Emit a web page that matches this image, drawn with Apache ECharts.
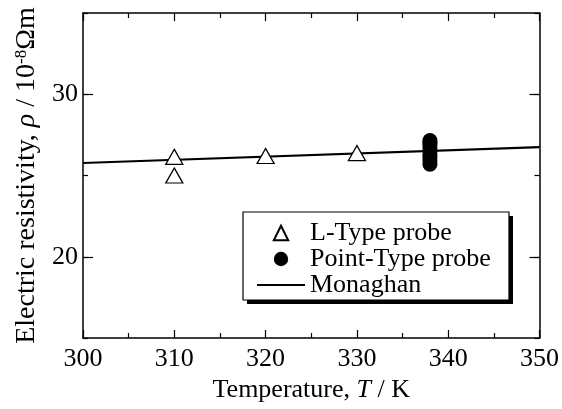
<!DOCTYPE html>
<html>
<head>
<meta charset="utf-8">
<script src="https://cdn.jsdelivr.net/npm/echarts@6/dist/echarts.min.js"></script>
<style>
  html, body { margin: 0; padding: 0; background: #fff; }
  #main { width: 562px; height: 409px; }
</style>
</head>
<body>
<div id="main"></div>
<script>
// L-Type probe (open triangles)
var lTypeT = [310, 310, 320, 330];
var lTypeRho = [26.15, 25.0, 26.2, 26.38];
// Point-Type probe (filled circles, all at 338 K)
var pointT = [338, 338, 338, 338, 338, 338, 338, 338, 338];
var pointRho = [25.7, 25.9, 26.1, 26.3, 26.5, 26.7, 26.9, 27.05, 27.15];
// Monaghan line
var monaghanT = [300, 350];
var monaghanRho = [25.77, 26.75];
var yLabelValues = [20, 30];

function pairs(xs, ys) {
  return xs.map(function (x, i) { return [x, ys[i]]; });
}

var chart = echarts.init(document.getElementById('main'));
var font = 'Liberation Serif';
var black = '#000';

var xBase = {
  type: 'value', min: 300, max: 350, interval: 10,
  axisLine: { lineStyle: { color: black, width: 1.5 } },
  axisTick: { inside: true, length: 8, lineStyle: { color: black, width: 1.2 } },
  minorTick: { show: true, splitNumber: 2, length: 5, lineStyle: { color: black, width: 1.2 } },
  splitLine: { show: false }
};

var option = {
  animation: false,
  textStyle: { fontFamily: font },
  grid: { left: 83, right: 22, top: 13, bottom: 71 },
  // legend frame with a hard drop shadow
  graphic: [
    { type: 'rect', z: 1, shape: { x: 247, y: 216, width: 266, height: 88 }, style: { fill: black } },
    { type: 'rect', z: 2, shape: { x: 243, y: 212, width: 266, height: 88 }, style: { fill: '#fff', stroke: black, lineWidth: 1.2 } }
  ],
  legend: {
    z: 10,
    orient: 'vertical',
    left: 243, top: 212,
    padding: [8, 12, 5, 13],
    itemWidth: 48, itemHeight: 18, itemGap: 0,
    textStyle: { fontFamily: font, fontSize: 26, color: black, lineHeight: 25.5 },
    data: [
      'L-Type probe',
      'Point-Type probe',
      { name: 'Monaghan', itemStyle: { color: 'rgba(0,0,0,0)', borderWidth: 0, opacity: 0 } }
    ]
  },
  xAxis: [
    Object.assign({}, xBase, {
      position: 'bottom',
      name: '{n|Temperature, }{i|T}{n| / K}',
      nameLocation: 'middle', nameGap: 38,
      nameTextStyle: {
        rich: {
          n: { fontFamily: font, fontSize: 26, color: black },
          i: { fontFamily: font, fontSize: 26, color: black, fontStyle: 'italic' }
        }
      },
      axisLabel: { fontFamily: font, fontSize: 26, color: black, margin: 8 }
    }),
    Object.assign({}, xBase, { position: 'top', axisLabel: { show: false } })
  ],
  yAxis: [
    {
      type: 'value', min: 15, max: 35, interval: 5, position: 'left',
      axisLine: { lineStyle: { color: black, width: 1.5 } },
      axisTick: { inside: true, length: 5, lineStyle: { color: black, width: 1.2 } },
      axisLabel: {
        fontFamily: font, fontSize: 26, color: black, margin: 5,
        formatter: function (v) { return yLabelValues.indexOf(v) >= 0 ? v : ''; }
      },
      splitLine: { show: false },
      name: '{n|Electric resistivity, }{i|ρ}{n| / 10}{s|-8}{n|Ωm}',
      nameLocation: 'middle', nameGap: 37,
      nameTextStyle: {
        rich: {
          n: { fontFamily: font, fontSize: 28, color: black },
          i: { fontFamily: font, fontSize: 28, color: black, fontStyle: 'italic' },
          s: { fontFamily: font, fontSize: 17, color: black, verticalAlign: 'top', padding: [0, 0, 10, 0] }
        }
      }
    },
    {
      type: 'value', min: 15, max: 35, position: 'left',
      axisLine: { show: false },
      axisTick: { inside: true, length: 10, customValues: yLabelValues, lineStyle: { color: black, width: 1.2 } },
      axisLabel: { show: false },
      splitLine: { show: false }
    },
    {
      type: 'value', min: 15, max: 35, interval: 5, position: 'right',
      axisLine: { show: true, lineStyle: { color: black, width: 1.5 } },
      axisTick: { show: true, inside: true, length: 5, lineStyle: { color: black, width: 1.2 } },
      axisLabel: { show: false },
      splitLine: { show: false }
    },
    {
      type: 'value', min: 15, max: 35, position: 'right',
      axisLine: { show: false },
      axisTick: { show: true, inside: true, length: 10, customValues: yLabelValues, lineStyle: { color: black, width: 1.2 } },
      axisLabel: { show: false },
      splitLine: { show: false }
    }
  ],
  series: [
    {
      name: 'Monaghan', type: 'line', z: 2,
      data: pairs(monaghanT, monaghanRho),
      symbol: 'none',
      lineStyle: { color: black, width: 2.2 },
      itemStyle: { color: black }
    },
    {
      name: 'L-Type probe', type: 'line', z: 3,
      data: pairs(lTypeT, lTypeRho),
      symbol: 'triangle', symbolSize: [17, 15], showAllSymbol: true,
      lineStyle: { width: 0, opacity: 0 },
      itemStyle: { color: '#fff', borderColor: black, borderWidth: 1.3, opacity: 1 }
    },
    {
      name: 'Point-Type probe', type: 'line', z: 4,
      data: pairs(pointT, pointRho),
      symbol: 'circle', symbolSize: 15, showAllSymbol: true,
      lineStyle: { width: 0, opacity: 0 },
      itemStyle: { color: black, borderColor: black, borderWidth: 0, opacity: 1 }
    }
  ]
};

chart.setOption(option);
</script>
</body>
</html>
